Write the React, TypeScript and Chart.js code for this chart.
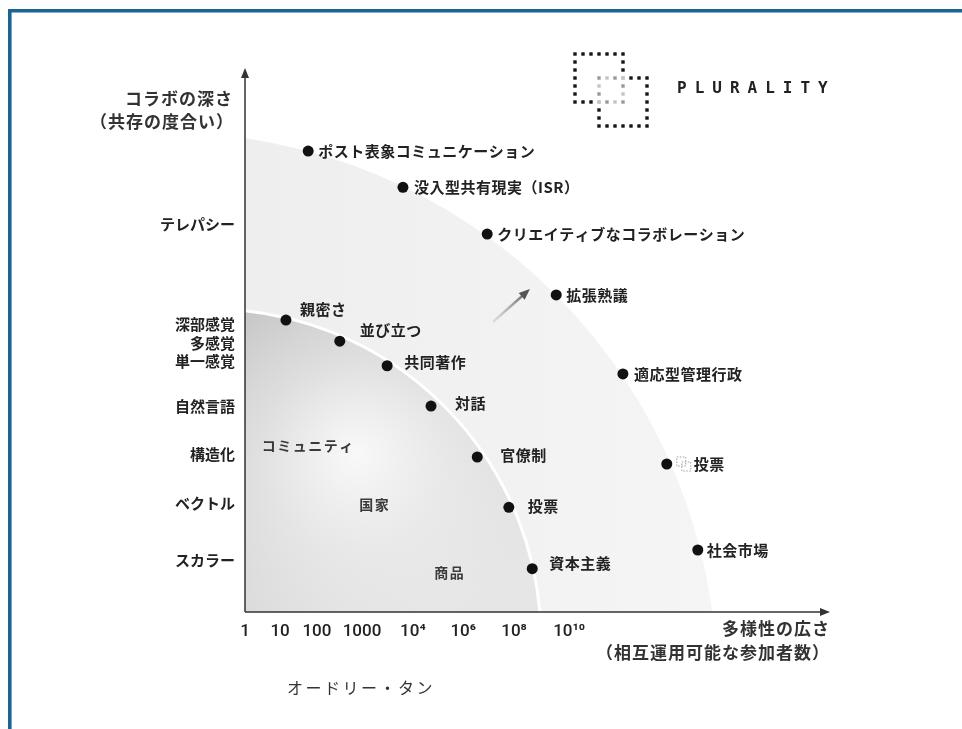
import React, { useEffect, useRef } from "react";
import { Chart, registerables } from "chart.js";

Chart.register(...registerables);

// ---- data ----
const xTickValues = [0, 6.0, 12.3, 20.0, 28.7, 37.3, 46.0, 55.4];
const xTickLabels = ["1", "10", "100", "1000", "10⁴", "10⁶", "10⁸", "10¹⁰"];
const yTickValues = [66.2, 49.1, 46.0, 42.9, 35.2, 27.0, 18.6, 8.9];
const yTickLabels = ["テレパシー", "深部感覚", "多感覚", "単一感覚", "自然言語", "構造化", "ベクトル", "スカラー"];

const outerNames = ["ポスト表象コミュニケーション", "没入型共有現実（ISR）", "クリエイティブなコラボレーション", "拡張熟議", "適応型管理行政", "投票", "社会市場"];
const outerX = [10.8, 27.0, 41.4, 53.2, 64.6, 72.1, 77.4];
const outerY = [78.8, 72.6, 64.6, 54.2, 40.7, 25.3, 10.6];

const innerNames = ["親密さ", "並び立つ", "共同著作", "対話", "官僚制", "投票", "資本主義"];
const innerX = [7.0, 16.2, 24.3, 31.8, 39.7, 45.1, 49.1];
const innerY = [49.9, 46.3, 42.1, 35.2, 26.5, 17.9, 7.4];

const regionNames = ["コミュニティ", "国家", "商品"];
const regionX = [10.8, 22.2, 35.0];
const regionY = [28.4, 18.3, 6.8];

// circles: [centerX, centerY, radius] in data units
const outerArc = [-13.8, -12.5, 94.5];
const innerArc = [-6.0, -4.8, 56.6];
// growth arrow: from / to
const arrowFrom = [42.4, 49.6];
const arrowTo = [48.7, 55.2];

const yTitle = ["コラボの深さ", "（共存の度合い）"];
const xTitle = ["多様性の広さ", "（相互運用可能な参加者数）"];
const caption = "オードリー・タン";
const logoText = "PLURALITY";

// label offsets (px) — styling only
const outerLabelDx = [10, 11, 10, 10, 11, 27, 9];
const innerLabelDx = [14, 20, 17, 24, 23, 19, 17];
const innerLabelDy = [-11, -11, -3, -3, -2, -1, -5];

const JP = '"Noto Sans CJK JP", "Noto Sans", sans-serif';

export default function App() {
  const ref = useRef<HTMLCanvasElement>(null);

  useEffect(() => {
    const canvas = ref.current!;

    const decor = {
      id: "decor",
      beforeDraw(chart: any) {
        const ctx = chart.ctx;
        ctx.save();
        ctx.fillStyle = "#ffffff";
        ctx.fillRect(0, 0, chart.width, chart.height);
        ctx.restore();
      },
      beforeDatasetsDraw(chart: any) {
        const ctx: CanvasRenderingContext2D = chart.ctx;
        const a = chart.chartArea;
        const xs = chart.scales.x;
        const ys = chart.scales.y;
        const px = (v: number) => xs.getPixelForValue(v);
        const py = (v: number) => ys.getPixelForValue(v);
        const ux = px(1) - px(0);

        ctx.save();
        ctx.beginPath();
        ctx.rect(a.left, a.top, a.right - a.left, a.bottom - a.top);
        ctx.clip();

        // outer region
        const ocx = px(outerArc[0]), ocy = py(outerArc[1]), orr = outerArc[2] * ux;
        ctx.beginPath();
        ctx.arc(ocx, ocy, orr, 0, Math.PI * 2);
        const og = ctx.createLinearGradient(a.left, 0, ocx + orr, 0);
        og.addColorStop(0, "#eeeeee");
        og.addColorStop(1, "#f5f5f5");
        ctx.fillStyle = og;
        ctx.fill();

        // inner region
        const icx = px(innerArc[0]), icy = py(innerArc[1]), ir = innerArc[2] * ux;
        ctx.beginPath();
        ctx.arc(icx, icy, ir, 0, Math.PI * 2);
        const lg = ctx.createLinearGradient(a.left, icy - ir, a.left + 200, a.bottom);
        lg.addColorStop(0, "#c4c4c4");
        lg.addColorStop(1, "#e6e6e6");
        ctx.fillStyle = lg;
        ctx.fill();
        const hx = px(19), hy = py(27);
        const hl = ctx.createRadialGradient(hx, hy, 0, hx, hy, 190);
        hl.addColorStop(0, "rgba(255,255,255,0.85)");
        hl.addColorStop(0.5, "rgba(255,255,255,0.35)");
        hl.addColorStop(1, "rgba(255,255,255,0)");
        ctx.fillStyle = hl;
        ctx.fill();
        ctx.lineWidth = 3;
        ctx.strokeStyle = "#ffffff";
        ctx.stroke();
        ctx.restore();

        // region labels
        ctx.save();
        ctx.font = `bold 14px ${JP}`;
        ctx.fillStyle = "#3a3a3a";
        ctx.textAlign = "center";
        ctx.textBaseline = "middle";
        (ctx as any).letterSpacing = "1.5px";
        regionNames.forEach((n, i) => ctx.fillText(n, px(regionX[i]), py(regionY[i])));
        ctx.restore();

        // growth arrow
        ctx.save();
        const ax0 = px(arrowFrom[0]), ay0 = py(arrowFrom[1]);
        const ax1 = px(arrowTo[0]), ay1 = py(arrowTo[1]);
        const ag = ctx.createLinearGradient(ax0, ay0, ax1, ay1);
        ag.addColorStop(0, "rgba(170,170,170,0.3)");
        ag.addColorStop(1, "#555");
        const ang = Math.atan2(ay1 - ay0, ax1 - ax0);
        const hlen = 11;
        ctx.strokeStyle = ag;
        ctx.lineWidth = 2.5;
        ctx.beginPath();
        ctx.moveTo(ax0, ay0);
        ctx.lineTo(ax1 - Math.cos(ang) * hlen * 0.8, ay1 - Math.sin(ang) * hlen * 0.8);
        ctx.stroke();
        ctx.fillStyle = "#555";
        ctx.beginPath();
        ctx.moveTo(ax1, ay1);
        ctx.lineTo(ax1 - Math.cos(ang) * hlen + Math.sin(ang) * 4.5, ay1 - Math.sin(ang) * hlen - Math.cos(ang) * 4.5);
        ctx.lineTo(ax1 - Math.cos(ang) * hlen - Math.sin(ang) * 4.5, ay1 - Math.sin(ang) * hlen + Math.cos(ang) * 4.5);
        ctx.closePath();
        ctx.fill();
        ctx.restore();

        // axes with arrowheads
        ctx.save();
        ctx.strokeStyle = "#333";
        ctx.fillStyle = "#333";
        ctx.lineWidth = 1.5;
        ctx.beginPath();
        ctx.moveTo(a.left, a.bottom);
        ctx.lineTo(a.left, a.top + 6);
        ctx.moveTo(a.left, a.bottom);
        ctx.lineTo(a.right - 6, a.bottom);
        ctx.stroke();
        ctx.beginPath();
        ctx.moveTo(a.left, a.top);
        ctx.lineTo(a.left - 4, a.top + 10);
        ctx.lineTo(a.left + 4, a.top + 10);
        ctx.closePath();
        ctx.fill();
        ctx.beginPath();
        ctx.moveTo(a.right, a.bottom);
        ctx.lineTo(a.right - 10, a.bottom - 4);
        ctx.lineTo(a.right - 10, a.bottom + 4);
        ctx.closePath();
        ctx.fill();
        ctx.restore();
      },
      afterDatasetsDraw(chart: any) {
        const ctx: CanvasRenderingContext2D = chart.ctx;
        const a = chart.chartArea;
        const xs = chart.scales.x;
        const ys = chart.scales.y;
        const px = (v: number) => xs.getPixelForValue(v);
        const py = (v: number) => ys.getPixelForValue(v);

        // point labels
        ctx.save();
        ctx.font = `bold 15px ${JP}`;
        ctx.fillStyle = "#222";
        ctx.textAlign = "left";
        ctx.textBaseline = "middle";
        (ctx as any).letterSpacing = "0.5px";
        outerNames.forEach((n, i) => {
          ctx.fillText(n, px(outerX[i]) + outerLabelDx[i], py(outerY[i]));
        });
        innerNames.forEach((n, i) => {
          ctx.fillText(n, px(innerX[i]) + innerLabelDx[i], py(innerY[i]) + innerLabelDy[i]);
        });
        ctx.restore();

        // small icon next to outer 投票
        ctx.save();
        const ix = px(outerX[5]) + 10, iy = py(outerY[5]) - 7;
        ctx.strokeStyle = "#888";
        ctx.lineWidth = 0.8;
        ctx.setLineDash([1.5, 1.5]);
        ctx.strokeRect(ix, iy, 9, 9);
        ctx.strokeRect(ix + 5, iy + 5, 9, 9);
        ctx.restore();

        // axis titles
        ctx.save();
        ctx.font = `bold 17px ${JP}`;
        ctx.fillStyle = "#333";
        ctx.textAlign = "right";
        ctx.textBaseline = "middle";
        (ctx as any).letterSpacing = "1px";
        ctx.fillText(yTitle[0], a.left - 12, 99);
        ctx.fillText(yTitle[1], a.left - 11, 122);
        ctx.fillText(xTitle[0], a.right, a.bottom + 17);
        ctx.fillText(xTitle[1], a.right, a.bottom + 41);
        ctx.restore();

        // caption
        ctx.save();
        ctx.font = `400 16px ${JP}`;
        ctx.fillStyle = "#333";
        ctx.textAlign = "left";
        ctx.textBaseline = "middle";
        (ctx as any).letterSpacing = "2.5px";
        ctx.fillText(caption, 287, 688);
        ctx.restore();

        // logo
        ctx.save();
        const step = 8;
        const s1x = 575, s1y = 54, s2x = 599, s2y = 78, n = 6;
        const inside = (x: number, y: number, sx: number, sy: number) =>
          x >= sx - 0.5 && x <= sx + n * step + 0.5 && y >= sy - 0.5 && y <= sy + n * step + 0.5;
        const drawSquare = (sx: number, sy: number, ox: number, oy: number) => {
          for (let i = 0; i <= n; i++) {
            for (let j = 0; j <= n; j++) {
              if (i !== 0 && i !== n && j !== 0 && j !== n) continue;
              const x = sx + i * step, y = sy + j * step;
              const gray = inside(x, y, ox, oy);
              ctx.fillStyle = gray ? ((i + j) % 2 ? "#c4c4c4" : "#999999") : "#151515";
              ctx.fillRect(x - 1.7, y - 1.7, 3.4, 3.4);
            }
          }
        };
        drawSquare(s1x, s1y, s2x, s2y);
        drawSquare(s2x, s2y, s1x, s1y);
        ctx.font = `bold 16px "DejaVu Sans Mono", monospace`;
        ctx.fillStyle = "#222";
        ctx.textAlign = "left";
        ctx.textBaseline = "middle";
        (ctx as any).letterSpacing = "8px";
        ctx.fillText(logoText, 677, 89);
        ctx.restore();

        // frame border
        ctx.save();
        ctx.fillStyle = "#1b6590";
        ctx.fillRect(8, 9, 3.6, chart.height - 9);
        ctx.fillRect(8, 9, chart.width - 8, 3.5);
        ctx.restore();
      },
    };

    const chart = new Chart(canvas, {
      type: "scatter",
      data: {
        datasets: [
          {
            label: "outer",
            data: outerX.map((x, i) => ({ x, y: outerY[i] })),
            pointRadius: 5.5,
            backgroundColor: "#111",
            borderWidth: 0,
          },
          {
            label: "inner",
            data: innerX.map((x, i) => ({ x, y: innerY[i] })),
            pointRadius: 5.5,
            backgroundColor: "#111",
            borderWidth: 0,
          },
        ],
      },
      options: {
        responsive: false,
        animation: false,
        events: [],
        layout: { padding: { top: 68, right: 132, left: 0, bottom: 0 } },
        plugins: { legend: { display: false }, tooltip: { enabled: false } },
        scales: {
          x: {
            type: "linear",
            min: 0,
            max: 100,
            grid: { display: false, drawTicks: false },
            border: { display: false },
            afterBuildTicks: (s: any) => {
              s.ticks = xTickValues.map((v) => ({ value: v }));
            },
            afterFit: (s: any) => {
              s.height = 117;
            },
            ticks: {
              autoSkip: false,
              maxRotation: 0,
              padding: 10,
              color: "#222",
              font: { family: "Roboto", size: 17, weight: "500" },
              callback: (_v: any, i: number) => xTickLabels[i],
            },
          },
          y: {
            type: "linear",
            min: 0,
            max: 93,
            grid: { display: false, drawTicks: false },
            border: { display: false },
            afterBuildTicks: (s: any) => {
              s.ticks = yTickValues.map((v) => ({ value: v }));
            },
            afterFit: (s: any) => {
              s.width = 245;
            },
            ticks: {
              autoSkip: false,
              padding: 10,
              color: "#222",
              font: { family: JP, size: 15, weight: "bold" },
              callback: (_v: any, i: number) => yTickLabels[i],
            },
          },
        },
      },
      plugins: [decor],
    } as any);

    return () => chart.destroy();
  }, []);

  return (
    <div style={{ position: "fixed", left: 0, top: 0, width: 962, height: 729, background: "#fff" }}>
      <canvas ref={ref} width={962} height={729} style={{ display: "block" }} />
    </div>
  );
}
